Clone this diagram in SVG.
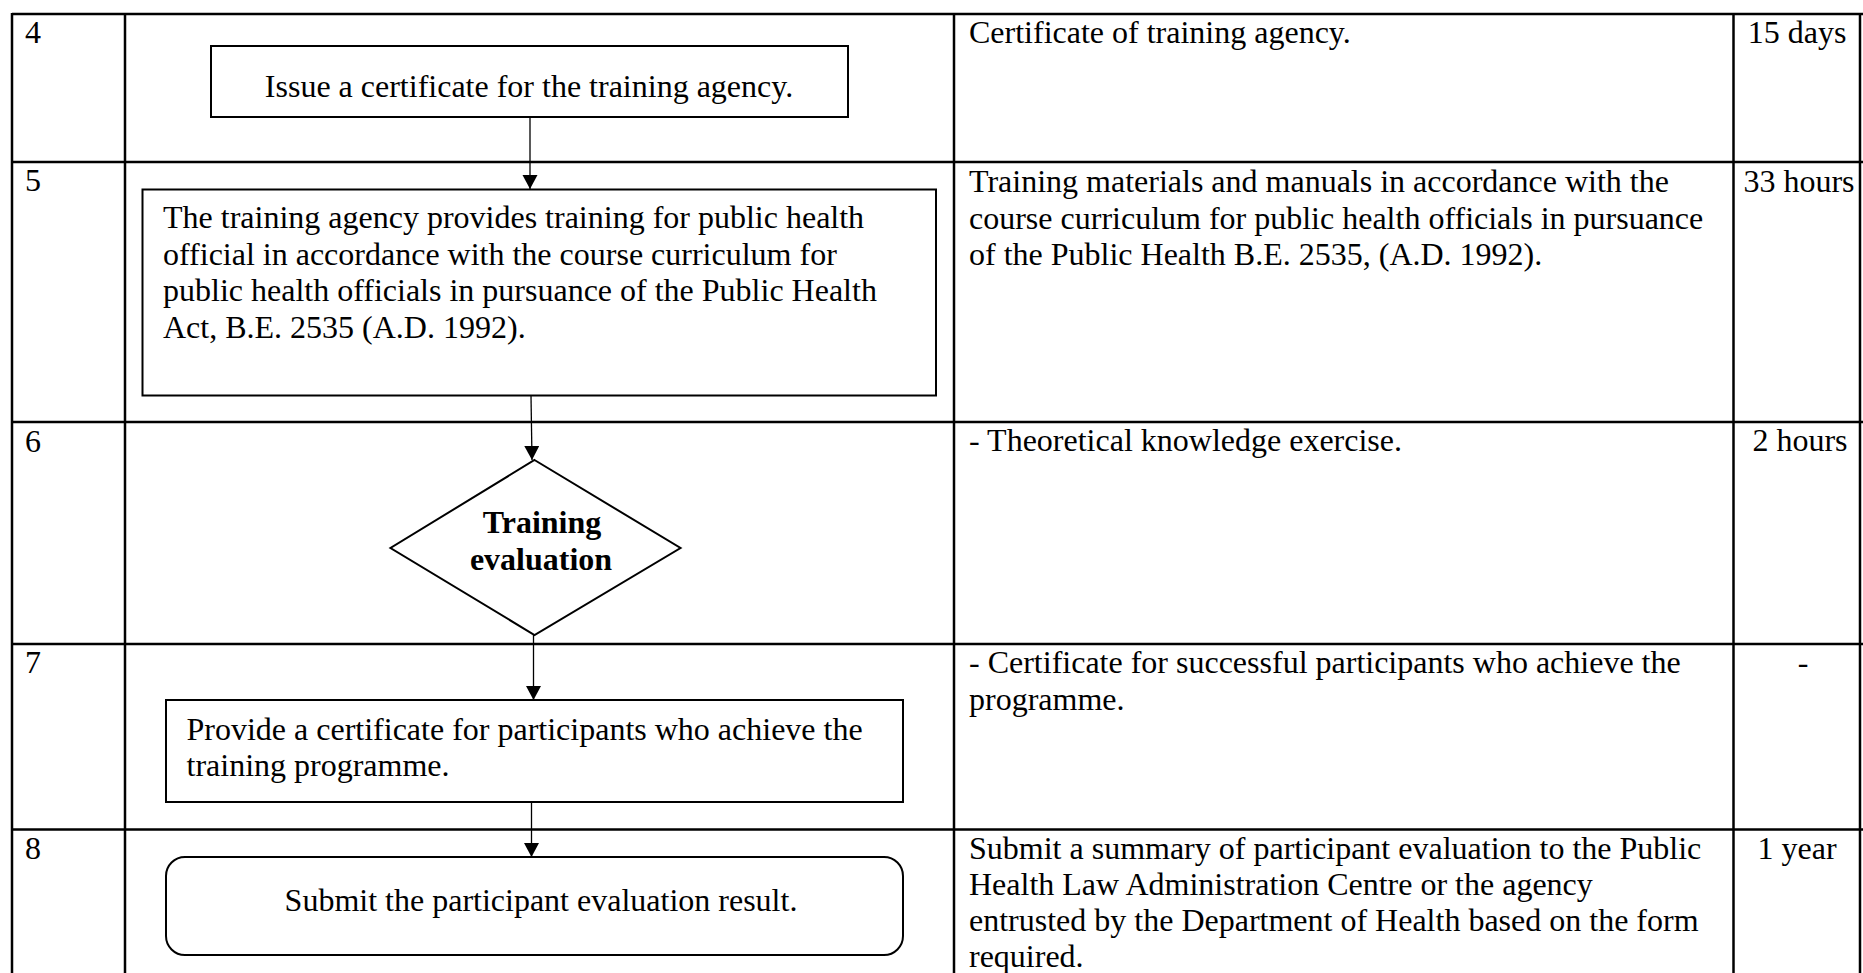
<svg xmlns="http://www.w3.org/2000/svg" width="1863" height="973" viewBox="0 0 1863 973">
<style>
text{font-family:"Liberation Serif","Times New Roman",serif;font-size:32px;fill:#000}
.grid{stroke:#000;stroke-width:2.5;fill:none}
.box{fill:#fff;stroke:#000;stroke-width:2}
.conn{stroke:#000;stroke-width:1.3;fill:none;marker-end:url(#ah)}
.c{text-anchor:middle}
.b{font-weight:bold}
</style>
<defs>
<marker id="ah" markerUnits="userSpaceOnUse" markerWidth="16" markerHeight="18" refX="14" refY="7.5" orient="auto">
<path d="M0,0 L14,7.5 L0,15 Z" fill="#000"/>
</marker>
</defs>
<rect width="1863" height="973" fill="#fff"/>
<g id="table">
<line class="grid" x1="12" y1="14" x2="1863" y2="14"/>
<line class="grid" x1="12" y1="162" x2="1863" y2="162"/>
<line class="grid" x1="12" y1="422" x2="1863" y2="422"/>
<line class="grid" x1="12" y1="644" x2="1863" y2="644"/>
<line class="grid" x1="12" y1="829.5" x2="1863" y2="829.5"/>
<line class="grid" x1="12" y1="13" x2="12" y2="973"/>
<line class="grid" x1="125" y1="13" x2="125" y2="973"/>
<line class="grid" x1="954" y1="13" x2="954" y2="973"/>
<line class="grid" x1="1733.5" y1="13" x2="1733.5" y2="973"/>
<line class="grid" x1="1860" y1="13" x2="1860" y2="973"/>
<text x="25" y="43">4</text>
<text x="25" y="191">5</text>
<text x="25" y="452">6</text>
<text x="25" y="673">7</text>
<text x="25" y="859">8</text>
<text x="969" y="43">Certificate of training agency.</text>
<text><tspan x="969" y="192">Training materials and manuals in accordance with the</tspan><tspan x="969" y="228.5">course curriculum for public health officials in pursuance</tspan><tspan x="969" y="265">of the Public Health B.E. 2535, (A.D. 1992).</tspan></text>
<text x="969" y="451">- Theoretical knowledge exercise.</text>
<text><tspan x="969" y="673">- Certificate for successful participants who achieve the</tspan><tspan x="969" y="709.5">programme.</tspan></text>
<text><tspan x="969" y="859">Submit a summary of participant evaluation to the Public</tspan><tspan x="969" y="895">Health Law Administration Centre or the agency</tspan><tspan x="969" y="931">entrusted by the Department of Health based on the form</tspan><tspan x="969" y="967">required.</tspan></text>
<text class="c" x="1797" y="43">15 days</text>
<text class="c" x="1799" y="192">33 hours</text>
<text class="c" x="1800" y="451">2 hours</text>
<text class="c" x="1803" y="673">-</text>
<text class="c" x="1797" y="859">1 year</text>
</g>
<g id="connectors">
<line class="conn" x1="530" y1="117" x2="530" y2="189"/>
<line class="conn" x1="531" y1="396" x2="532" y2="460"/>
<line class="conn" x1="533.5" y1="635" x2="533.5" y2="700"/>
<line class="conn" x1="531.5" y1="802" x2="531.5" y2="857"/>
</g>
<g id="n4">
<rect class="box" x="211" y="46" width="637" height="71"/>
<text class="c" x="529" y="97">Issue a certificate for the training agency.</text>
</g>
<g id="n5">
<rect class="box" x="142.5" y="189.5" width="793.5" height="206"/>
<text><tspan x="163" y="228">The training agency provides training for public health</tspan><tspan x="163" y="264.7">official in accordance with the course curriculum for</tspan><tspan x="163" y="301.4">public health officials in pursuance of the Public Health</tspan><tspan x="163" y="338">Act, B.E. 2535 (A.D. 1992).</tspan></text>
</g>
<g id="n6">
<polygon class="box" points="534.5,460 680.5,548 534.5,635 390.5,548"/>
<text class="c b" x="542" y="533">Training</text>
<text class="c b" x="541" y="570">evaluation</text>
</g>
<g id="n7">
<rect class="box" x="166" y="700" width="737" height="102"/>
<text><tspan x="186.5" y="739.5">Provide a certificate for participants who achieve the</tspan><tspan x="186.5" y="775.5">training programme.</tspan></text>
</g>
<g id="n8">
<rect class="box" x="166" y="857" width="737" height="98" rx="19" ry="19"/>
<text class="c" x="541" y="911">Submit the participant evaluation result.</text>
</g>
</svg>
